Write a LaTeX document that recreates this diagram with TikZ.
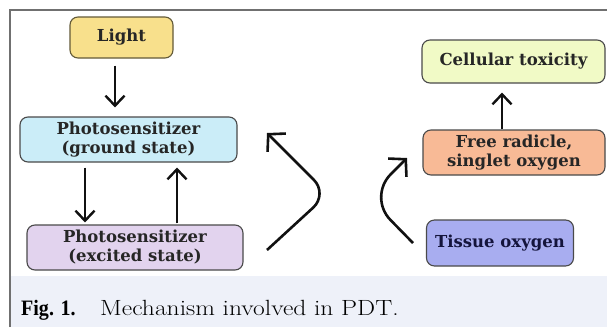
\documentclass[tikz,border=0pt]{standalone}
\usepackage{fontspec}
\usepackage{graphicx}
\newfontfamily\boxfont{DejaVu Serif}
\newfontfamily\capbold{Liberation Serif}
\usetikzlibrary{arrows.meta}
\definecolor{lightfill}{HTML}{F8E08C}
\definecolor{gsfill}{HTML}{CBEDF8}
\definecolor{esfill}{HTML}{E2D3EE}
\definecolor{ctfill}{HTML}{F1FAC6}
\definecolor{frfill}{HTML}{F8BA96}
\definecolor{tofill}{HTML}{A8ADF0}
\definecolor{capbg}{HTML}{EEF1F9}
\definecolor{framec}{HTML}{707070}
\definecolor{boxline}{HTML}{4A4A4A}
\definecolor{boxtext}{HTML}{262626}
\definecolor{totext}{HTML}{14143C}
\definecolor{arrowc}{HTML}{111111}
\tikzset{
  box/.style={draw=boxline, line width=1.1pt, rounded corners=8pt, inner sep=0pt,
    align=center, text=boxtext, font=\boxfont\bfseries\fontsize{16.5}{19}\selectfont},
  arr/.style={draw=arrowc, line width=2.4pt, -{Straight Barb[length=10pt,width=19pt]}},
  carr/.style={draw=arrowc, line width=2.6pt, rounded corners=#1, -{Straight Barb[length=12pt,width=26pt]}},
  captxt/.style={anchor=base west, inner sep=0pt, font=\fontsize{22}{26}\selectfont, text=black}
}
\begin{document}
\begin{tikzpicture}[x=1pt,y=-1pt]
\useasboundingbox (0,0) rectangle (607,327);
\fill[white] (0,0) rectangle (607,327);
\fill[capbg] (10,276) rectangle (607,327);
\draw[framec, line width=1.6pt] (10,327) -- (10,10) -- (607,10);

\node[box, fill=lightfill, draw=lightfill!40!black, minimum width=103pt, minimum height=41pt] (light) at (121.5,37.5) {Light};
\node[box, fill=gsfill, minimum width=217pt, minimum height=45pt] (gs) at (128.5,139.5) {Photosensitizer\\(ground state)};
\node[box, fill=esfill, minimum width=216pt, minimum height=45pt] (es) at (135,247.5) {Photosensitizer\\(excited state)};
\node[box, fill=ctfill, minimum width=183pt, minimum height=43pt] (ct) at (513.5,61.5) {Cellular toxicity};
\node[box, fill=frfill, minimum width=182pt, minimum height=45pt] (fr) at (514,152.5) {Free radicle,\\singlet oxygen};
\node[box, fill=tofill, text=totext, minimum width=147pt, minimum height=46pt] (to) at (500,243) {Tissue oxygen};

\draw[arr, shorten <=7pt, shorten >=9pt] ([xshift=-6.5pt]light.south) -- ([xshift=-13.5pt]gs.north);
\draw[arr, shorten <=5pt, shorten >=2pt] ([xshift=-43.5pt]gs.south) -- ([xshift=-50pt]es.north);
\draw[arr, shorten <=1pt, shorten >=5pt] ([xshift=42pt]es.north) -- ([xshift=48.5pt]gs.south);
\draw[arr, shorten >=9pt] ([xshift=-12pt]fr.north) -- ([xshift=-11.5pt]ct.south);

\coordinate (c1s) at (267,250);
\coordinate (c1v) at (328,194);
\coordinate (c1e) at (267,133);
\draw[carr=20pt] (c1s) -- (c1v) -- (c1e);
\coordinate (c2s) at (413,243);
\coordinate (c2v) at (368,197);
\coordinate (c2e) at (407,158);
\draw[carr=32pt] (c2s) -- (c2v) -- (c2e);

\node[captxt] (fig) at (21,315) {\scalebox{0.91}[1]{\capbold\bfseries Fig. 1.}};
\node[captxt] (cap) at (100,315) {\scalebox{1.16}[1]{Mechanism involved in PDT.}};
\end{tikzpicture}
\end{document}
